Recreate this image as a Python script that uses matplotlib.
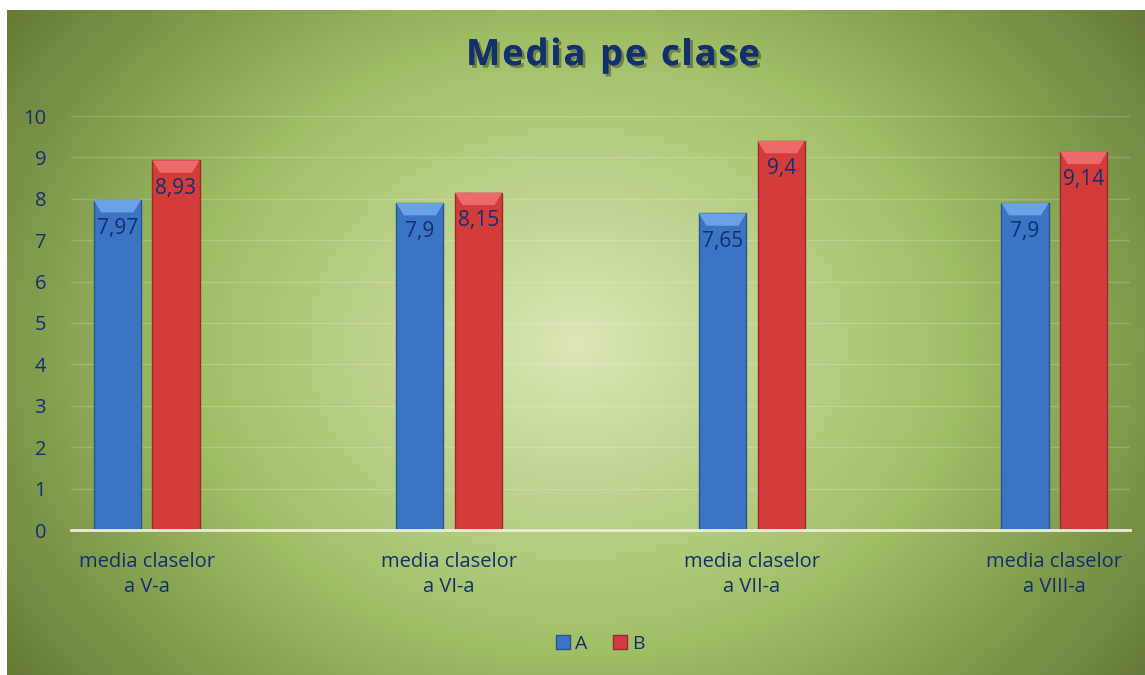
import numpy as np
import matplotlib.pyplot as plt
import matplotlib.patheffects as pe
from matplotlib.patches import Polygon

categories = ["media claselor\na V-a", "media claselor\na VI-a",
              "media claselor\na VII-a", "media claselor\na VIII-a"]
series_a = [7.97, 7.9, 7.65, 7.9]
series_b = [8.93, 8.15, 9.4, 9.14]
labels_a = ["7,97", "7,9", "7,65", "7,9"]
labels_b = ["8,93", "8,15", "9,4", "9,14"]
yticks = list(range(0, 11))
title = "Media pe clase"

navy = "#12306e"
blue = "#3b74c4"
red = "#d43c3c"

plt.rcParams['font.family'] = ['Open Sans', 'DejaVu Sans']

fig = plt.figure(figsize=(11.45, 6.75), dpi=100)
fig.patch.set_facecolor("white")

# radial green background
bg = fig.add_axes([7 / 1145, 0, 1 - 7 / 1145, 1 - 10 / 675])
bg.set_axis_off()
h, w = 330, 570
yy, xx = np.mgrid[0:h, 0:w]
cx, cy = w * 0.50, h * 0.50
d = np.sqrt(((xx - cx) / (w * 0.62)) ** 2 + ((yy - cy) / (h * 0.85)) ** 2)
d = np.clip(d, 0, 1)
inner = np.array([218, 232, 182]) / 255
mid = np.array([160, 190, 100]) / 255
outer = np.array([100, 122, 55]) / 255
t = d[..., None]
img = np.where(t < 0.55, inner + (mid - inner) * (t / 0.55),
               mid + (outer - mid) * ((t - 0.55) / 0.45))
bg.imshow(img, aspect="auto", extent=[0, 1, 0, 1], interpolation="bilinear")
bg.set_xlim(0, 1)
bg.set_ylim(0, 1)

# plot area
left, right = 71 / 1145, 1130 / 1145
bottom, top = 1 - 530 / 675, 1 - 116 / 675
ax = fig.add_axes([left, bottom, right - left, top - bottom])
ax.patch.set_alpha(0)

x = np.arange(len(categories))
bw = 0.156
off = 0.097
bars_a = ax.bar(x - off, series_a, bw, color=blue, edgecolor="#2a5590", linewidth=1, zorder=3)
bars_b = ax.bar(x + off, series_b, bw, color=red, edgecolor="#9a2a2a", linewidth=1, zorder=3)

# bevel on top of each bar (lighter trapezoid)
for bars, light in [(bars_a, "#6aa2e6"), (bars_b, "#ec6a6a")]:
    for b in bars:
        x0, wdt, hgt = b.get_x(), b.get_width(), b.get_height()
        depth = 0.3
        ins = wdt * 0.16
        poly = Polygon([(x0, hgt), (x0 + wdt, hgt), (x0 + wdt - ins, hgt - depth),
                        (x0 + ins, hgt - depth)], closed=True, facecolor=light,
                       edgecolor="none", zorder=4)
        ax.add_patch(poly)

for xi, va, vb, la, lb in zip(x, series_a, series_b, labels_a, labels_b):
    ax.text(xi - off, va - 0.68, la, ha="center", va="center", color=navy, fontsize=15, zorder=5)
    ax.text(xi + off, vb - 0.68, lb, ha="center", va="center", color=navy, fontsize=15, zorder=5)

ax.set_xlim(-0.25, 3.25)
ax.set_ylim(0, 10)
ax.set_yticks(yticks)
ax.set_yticklabels([str(v) for v in yticks], color=navy, fontsize=14.5)
ax.set_xticks(x)
ax.set_xticklabels(categories, color=navy, fontsize=14.5, linespacing=1.35)
ax.tick_params(length=0)
ax.tick_params(axis="x", pad=16)
ax.tick_params(axis="y", pad=18)
ax.grid(axis="y", color="white", alpha=0.18, linewidth=1, zorder=0)
for s in ["top", "right", "left"]:
    ax.spines[s].set_visible(False)
ax.spines["bottom"].set_color("#e8eedc")
ax.spines["bottom"].set_linewidth(2)
ax.spines["bottom"].set_zorder(6)

# title with letter spacing, placed char by char
renderer = fig.canvas.get_renderer()
tkw = dict(fontsize=26, fontweight="bold", color=navy, va="baseline",
           path_effects=[pe.withSimplePatchShadow(offset=(2, -2), shadow_rgbFace="#303a20", alpha=0.45),
                         pe.Normal()])
spacing = 2.0 / 1145
widths = []
for ch in title:
    tt = fig.text(0, 0, ch if ch != " " else "n", **tkw)
    widths.append(tt.get_window_extent(renderer).width / 1145 * (0.45 if ch == " " else 1.0))
    tt.remove()
total = sum(widths) + spacing * (len(title) - 1)
xpos = 613 / 1145 - total / 2
for ch, wd in zip(title, widths):
    if ch != " ":
        fig.text(xpos, 1 - 65 / 675, ch, ha="left", **tkw)
    xpos += wd + spacing

ax.legend([bars_a, bars_b], ["A", "B"], loc="center", bbox_to_anchor=(0.5, -0.275),
          ncol=2, frameon=False, fontsize=14, handlelength=0.7, handleheight=0.7,
          handletextpad=0.3, columnspacing=1.3, labelcolor=navy)
fig.savefig("out.png", dpi=100)
